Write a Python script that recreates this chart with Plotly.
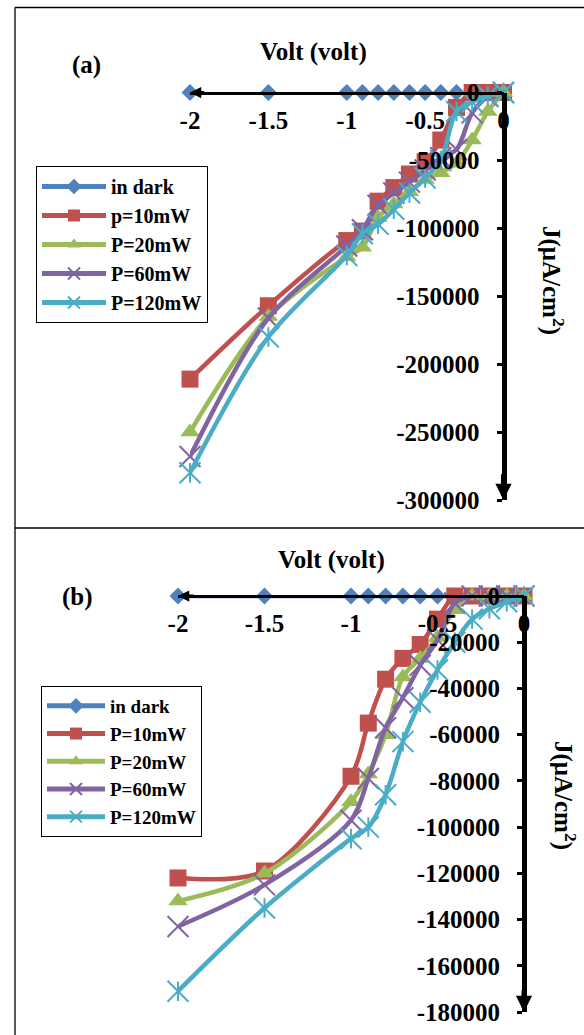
import plotly.graph_objects as go

W, H = 584, 1035

# ---- data -------------------------------------------------------------
volts = [-2, -1.5, -1, -0.9, -0.8, -0.7, -0.6, -0.5, -0.4, -0.3, -0.2, -0.1, 0]

# panel (a): current density J (uA/cm2)
dark_a = [0, 0, 0, 0, 0, 0, 0, 0, 0, 0, 0, 0, 0]
p10_a = [-211000, -157000, -109000, -102000, -80000, -70000, -60000, -51000, -35000, -11000, 0, 0, 0]
p20_a = [-250000, -165000, -121000, -114000, -92000, -82000, -73000, -64000, -59000, -52000, -35000, -14000, 0]
p60_a = [-268000, -166000, -113000, -101000, -83000, -74000, -66000, -57000, -48000, -42000, -15000, -3000, 0]
p120_a = [-280000, -180000, -120000, -104000, -97000, -86000, -74000, -63000, -50000, -14000, -7000, -2500, 0]

# panel (b)
dark_b = [0, 0, 0, 0, 0, 0, 0, 0, 0, 0, 0, 0, 0]
p10_b = [-122000, -119000, -78000, -55000, -36000, -27000, -21000, -10000, 0, 0, 0, 0, 0]
p20_b = [-132000, -120000, -89000, -77000, -60000, -35000, -27000, -18000, -6000, 0, 0, 0, 0]
p60_b = [-143000, -125000, -97000, -79000, -57000, -44000, -30000, -19000, -3000, 0, 0, 0, 0]
p120_b = [-171000, -135000, -105000, -100000, -86000, -63000, -46000, -32000, -20000, -10000, -5500, -2500, 0]

names_a = ["in dark", "p=10mW", "P=20mW", "P=60mW", "P=120mW"]
names_b = ["in dark", "P=10mW", "P=20mW", "P=60mW", "P=120mW"]

x_ticks = [-2, -1.5, -1, -0.5, 0]
x_ticktext = ["-2", "-1.5", "-1", "-0.5", "0"]
y_ticks_a = [0, -50000, -100000, -150000, -200000, -250000, -300000]
y_ticks_b = [0, -20000, -40000, -60000, -80000, -100000, -120000, -140000, -160000, -180000]

# ---- styling ----------------------------------------------------------
colors = ["#4F81BD", "#C0504D", "#9BBB59", "#8064A2", "#4BACC6"]
FONT = "Liberation Serif"


def px_x(p):
    return p / W


def px_y(p):
    return 1 - p / H


def marker_for(i):
    c = colors[i]
    if i == 0:
        return dict(symbol="diamond", size=13, color=c, line=dict(width=0))
    if i == 1:
        return dict(symbol="square", size=17, color=c, line=dict(width=0))
    if i == 2:
        return dict(symbol="triangle-up", size=17, color=c, line=dict(width=0))
    return dict(symbol="x-thin", size=21, color=c, line=dict(width=2, color=c))


fig = go.Figure()


def add_panel(series, names, xa, ya, legend):
    for i, (vals, name) in enumerate(zip(series, names)):
        fig.add_trace(go.Scatter(
            x=volts, y=vals, name=name, mode="lines+markers",
            line=dict(color=colors[i], width=4.5, shape="spline", smoothing=0.9),
            marker=marker_for(i), xaxis=xa, yaxis=ya, legend=legend,
            cliponaxis=False,
        ))
        if i == 4:
            # vertical stroke completing the star marker
            fig.add_trace(go.Scatter(
                x=volts, y=vals, mode="markers", showlegend=False,
                marker=dict(symbol="line-ns", size=14, color=colors[i],
                            line=dict(width=2, color=colors[i])),
                xaxis=xa, yaxis=ya, cliponaxis=False, hoverinfo="skip",
            ))


add_panel([dark_a, p10_a, p20_a, p60_a, p120_a], names_a, "x", "y", "legend")
add_panel([dark_b, p10_b, p20_b, p60_b, p120_b], names_b, "x2", "y2", "legend2")

tickfont = dict(family=FONT, size=25, color="black", weight="bold")


def xaxis_cfg(left, right, zero_y):
    return dict(
        domain=[px_x(left), px_x(right)], range=[-2, 0], anchor="free",
        position=px_y(zero_y), side="bottom", showline=True, linecolor="black",
        linewidth=3, ticks="", tickvals=x_ticks, ticktext=x_ticktext,
        tickfont=tickfont, showgrid=False, zeroline=False, ticklabelstandoff=4,
        automargin=False,
    )


def yaxis_cfg(top, bottom, zero_x, ymin, ticks):
    return dict(
        domain=[px_y(bottom), px_y(top)], range=[ymin, 0], anchor="free",
        position=px_x(zero_x), side="left", showline=True, linecolor="black",
        linewidth=5, ticks="outside", ticklen=5, tickwidth=3, tickcolor="black",
        tickvals=ticks, ticktext=[str(t) for t in ticks], tickfont=tickfont,
        showgrid=False, zeroline=False, ticklabelstandoff=12, automargin=False,
    )


fig.update_layout(
    width=W, height=H, autosize=False,
    margin=dict(l=0, r=0, t=0, b=0, pad=0, autoexpand=False),
    paper_bgcolor="white", plot_bgcolor="white",
    xaxis=xaxis_cfg(190, 503.5, 92.5),
    yaxis=yaxis_cfg(92.5, 500, 503.5, -300000, y_ticks_a),
    xaxis2=xaxis_cfg(178, 524, 596),
    yaxis2=yaxis_cfg(596, 1012, 524, -180000, y_ticks_b),
    legend=dict(x=px_x(36), y=px_y(166), xanchor="left", yanchor="top",
                bgcolor="white", bordercolor="black", borderwidth=1,
                font=dict(family=FONT, size=20, color="black", weight="bold"),
                itemsizing="constant", itemwidth=64),
    legend2=dict(x=px_x(41), y=px_y(686), xanchor="left", yanchor="top",
                 bgcolor="white", bordercolor="black", borderwidth=1,
                 font=dict(family=FONT, size=19, color="black", weight="bold"),
                 itemsizing="constant", itemwidth=58),
)

# panel frames (left edge, top edge and the divider between panels)
frame = [
    (15, 7.5, 15, 1035),
    (15, 7.5, 584, 7.5),
    (15, 528, 584, 528),
]
for x0, y0, x1, y1 in frame:
    fig.add_shape(type="line", xref="paper", yref="paper",
                  x0=px_x(x0), x1=px_x(x1), y0=px_y(y0), y1=px_y(y1),
                  line=dict(color="black", width=1.3), layer="below")

# arrowheads at the axis ends
arrows = [
    dict(xref="x", yref="y", x=-2, y=0, ax=-1.9, ay=0, w=3, s=0.75),
    dict(xref="x", yref="y", x=0, y=-300000, ax=0, ay=-280000, w=5, s=0.65),
    dict(xref="x2", yref="y2", x=-2, y=0, ax=-1.9, ay=0, w=3, s=0.75),
    dict(xref="x2", yref="y2", x=0, y=-180000, ax=0, ay=-170000, w=5, s=0.65),
]
for a in arrows:
    fig.add_annotation(
        xref=a["xref"], yref=a["yref"], axref=a["xref"], ayref=a["yref"],
        x=a["x"], y=a["y"], ax=a["ax"], ay=a["ay"], text="", showarrow=True,
        arrowhead=2, arrowsize=a["s"], arrowwidth=a["w"], arrowcolor="black",
        standoff=0, startstandoff=0,
    )

label_font = dict(family=FONT, size=25, color="black", weight="bold")
texts = [
    ("(a)", 86, 65, 0),
    ("Volt (volt)", 313, 52, 0),
    ("J(μA/cm<sup>2</sup>)", 553, 280, 90),
    ("(b)", 77, 597, 0),
    ("Volt (volt)", 331, 560, 0),
    ("J(μA/cm<sup>2</sup>)", 565, 795, 90),
]
for t, x, y, ang in texts:
    fig.add_annotation(xref="paper", yref="paper", x=px_x(x), y=px_y(y),
                       text=t, showarrow=False, textangle=ang, font=label_font,
                       xanchor="center", yanchor="middle")

fig.write_html("out.html")
